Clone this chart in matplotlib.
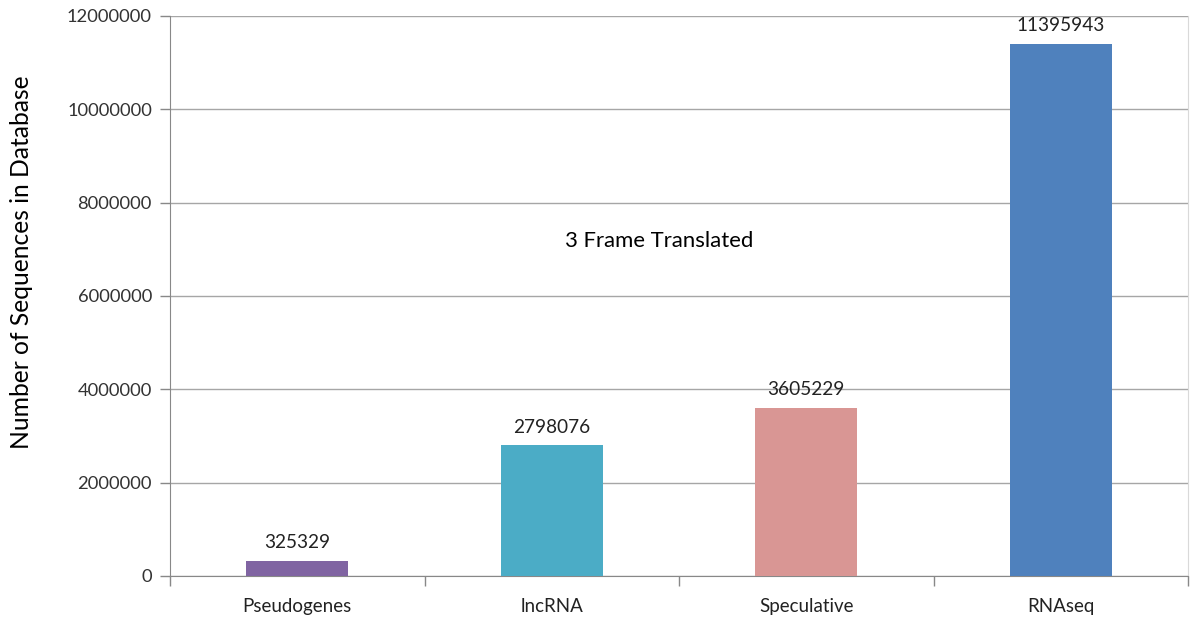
import matplotlib
matplotlib.use("Agg")
import matplotlib.pyplot as plt
from matplotlib.ticker import FixedLocator

# sequence counts per database type
categories = ["Pseudogenes", "lncRNA", "Speculative", "RNAseq"]
counts = [325329, 2798076, 3605229, 11395943]
colors = ["#8064A2", "#4BACC6", "#D99694", "#4F81BD"]
yticks = [0, 2000000, 4000000, 6000000, 8000000, 10000000, 12000000]

plt.rcParams['font.family'] = ['Lato', 'DejaVu Sans']

fig = plt.figure(figsize=(12.02, 6.18), dpi=100)
ax = fig.add_axes([170/1202, 42/618, 1018/1202, 560/618])

x = list(range(len(categories)))
ax.bar(x, counts, width=0.4, color=colors, zorder=3)

for xi, c in zip(x, counts):
    ax.annotate(str(c), (xi, c), xytext=(0, 7), textcoords="offset points",
                ha="center", va="bottom", fontsize=13.7, color="#222222")

ax.set_xlim(-0.5, len(categories) - 0.5)
ax.set_ylim(0, 12000000)
ax.set_yticks(yticks)
ax.set_yticklabels([str(t) for t in yticks], fontsize=13.2, color="#333333")
ax.set_xticks(x)
ax.set_xticklabels(categories, fontsize=13.5, color="#222222")
ax.tick_params(axis="x", which="major", length=0, pad=16)
ax.xaxis.set_minor_locator(FixedLocator([i - 0.5 for i in range(len(categories) + 1)]))
ax.tick_params(axis="x", which="minor", length=7, color="#888888", width=1)
ax.tick_params(axis="y", length=7, color="#888888", width=1, pad=6)

ax.yaxis.grid(True, color="#a6a6a6", linewidth=1, zorder=0)
ax.spines["top"].set_visible(False)
ax.spines["right"].set_color("#d9d9d9")
ax.spines["left"].set_color("#888888")
ax.spines["bottom"].set_color("#888888")

ax.set_ylabel("Number of Sequences in Database", fontsize=17.7)
ax.yaxis.set_label_coords(-0.135, 0.561)
ax.text(0.481, 0.598, "3 Frame Translated", transform=ax.transAxes,
        ha="center", va="center", fontsize=15.9)

fig.savefig("out.png", dpi=100)
